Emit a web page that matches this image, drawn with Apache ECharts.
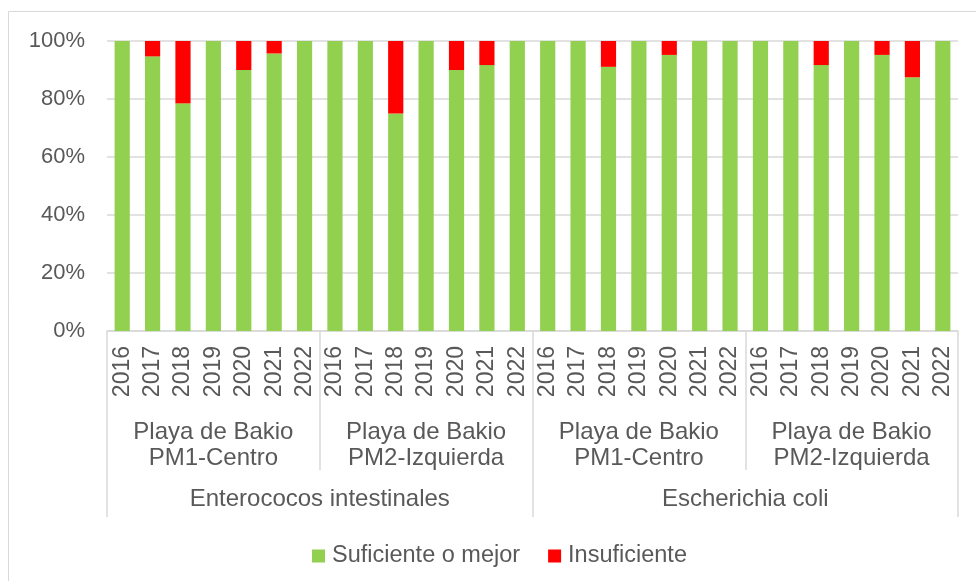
<!DOCTYPE html>
<html>
<head>
<meta charset="utf-8">
<script src="https://cdn.jsdelivr.net/npm/echarts@6/dist/echarts.min.js"></script>
<style>html,body{margin:0;padding:0;background:#fff;}#c{width:976px;height:581px;}</style>
</head>
<body>
<div id="c"></div>
<script>
const years = ['2016','2017','2018','2019','2020','2021','2022',
               '2016','2017','2018','2019','2020','2021','2022',
               '2016','2017','2018','2019','2020','2021','2022',
               '2016','2017','2018','2019','2020','2021','2022'];
const sites = ['Playa de Bakio\nPM1-Centro','Playa de Bakio\nPM2-Izquierda','Playa de Bakio\nPM1-Centro','Playa de Bakio\nPM2-Izquierda'];
const params = ['Enterococos intestinales','Escherichia coli'];
const seriesNames = ['Suficiente o mejor','Insuficiente'];
const suficiente = [100, 94.7, 78.5, 100, 90, 95.7, 100,
                    100, 100, 75, 100, 90, 91.7, 100,
                    100, 100, 91.1, 100, 95.2, 100, 100,
                    100, 100, 91.7, 100, 95.2, 87.5, 100];
const insuficiente = [0, 5.3, 21.5, 0, 10, 4.3, 0,
                      0, 0, 25, 0, 10, 8.3, 0,
                      0, 0, 8.9, 0, 4.8, 0, 0,
                      0, 0, 8.3, 0, 4.8, 12.5, 0];
const yTicks = [0, 20, 40, 60, 80, 100];

const txt = '#595959';
const lineC = '#d9d9d9';
const font = 'Liberation Sans, Arial, sans-serif';
const chart = echarts.init(document.getElementById('c'));
chart.setOption({
  animation: false,
  textStyle: {fontFamily: font},
  graphic: [{type:'rect', shape:{x:8.5,y:11.5,width:1100,height:1100}, style:{fill:'none', stroke:lineC, lineWidth:1}}],
  grid: {left:107, right:18, top:41, bottom:250},
  legend: {
    left: 307, top: 539, itemWidth: 13, itemHeight: 13, itemGap: 28, icon: 'rect',
    textStyle: {color: txt, fontSize: 23.5, fontFamily: font, padding:[0,0,0,2]},
    data: seriesNames
  },
  xAxis: [
    {type:'category', data: years, position:'bottom',
     axisLine:{show:true, lineStyle:{color:lineC, width:1.5}},
     axisTick:{show:false},
     axisLabel:{rotate:90, color:txt, fontSize:23, margin:15, fontFamily:font}},
    {type:'category', data: sites, position:'bottom',
     axisLine:{show:false},
     axisTick:{show:true, length:139, lineStyle:{color:lineC, width:1.5}},
     axisLabel:{color:txt, fontSize:24, lineHeight:26, margin:88, fontFamily:font}},
    {type:'category', data: params, position:'bottom',
     axisLine:{show:false},
     axisTick:{show:true, length:186, lineStyle:{color:lineC, width:1.5}},
     axisLabel:{color:txt, fontSize:24, margin:156, fontFamily:font}}
  ],
  yAxis: {
    type:'value', min: yTicks[0], max: yTicks[yTicks.length-1], interval: 20,
    axisLine:{show:false}, axisTick:{show:false},
    splitLine:{lineStyle:{color:lineC, width:1.5}},
    axisLabel:{formatter:'{value}%', color:txt, fontSize:22, margin:22, fontFamily:font}
  },
  series: [
    {name: seriesNames[0], type:'bar', stack:'t', xAxisIndex:0, data: suficiente, barCategoryGap:'50%', itemStyle:{color:'#92d050'}},
    {name: seriesNames[1], type:'bar', stack:'t', xAxisIndex:0, data: insuficiente, barCategoryGap:'50%', itemStyle:{color:'#ff0000'}}
  ]
});
</script>
</body>
</html>
